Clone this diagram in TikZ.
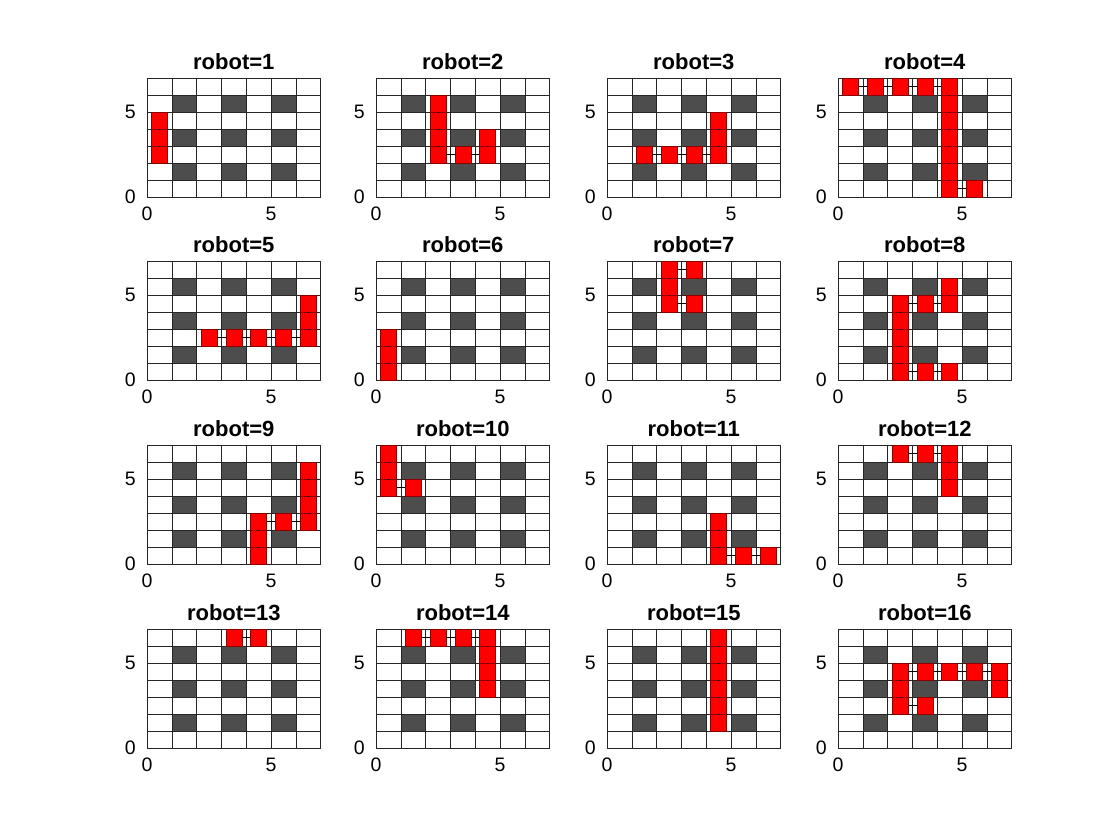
\documentclass[tikz,border=0pt]{standalone}
\usepackage{fontspec}
\setmainfont{Liberation Sans}
\usepackage{tikz}
\definecolor{shelf}{HTML}{4D4D4D}
\definecolor{gridk}{HTML}{262626}
\definecolor{botred}{HTML}{FF0000}
\tikzset{
  shelfbox/.style={fill=shelf},
  gridln/.style={draw=gridk,line width=0.6pt},
  cellr/.style={draw=red!55!black,fill=botred,line width=0.4pt,minimum width=16pt,minimum height=17pt,inner sep=0pt},
  route/.style={draw=black,line width=0.8pt},
  ttl/.style={font=\fontsize{22}{26}\selectfont\bfseries,anchor=base,inner sep=0pt},
  tck/.style={font=\fontsize{19.5}{23}\selectfont,inner sep=0pt},
}
% one panel: origin x, origin y, robot number, visited cells col/row
\newcommand{\robotpanel}[4]{%
  \begin{scope}[shift={(#1pt,#2pt)},x=24.8pt,y=17pt]
    \foreach \cx in {1,3,5}
      \foreach \ry in {1,3,5}
        \fill[shelfbox] (\cx,\ry) rectangle ++(1,1);
    \draw[gridln] (0,0) grid[step={(1,1)}] (7,7);
    \node[ttl,yshift=8pt] (t#3) at (3.5,7) {robot=#3};
    \node[tck,anchor=east,xshift=-11pt] (y0-#3) at (0,0) {0};
    \node[tck,anchor=east,xshift=-11pt] (y5-#3) at (0,5) {5};
    \node[tck,anchor=north,yshift=-10pt] (x0-#3) at (0,0) {0};
    \node[tck,anchor=north,yshift=-10pt] (x5-#3) at (5,0) {5};
    \foreach \cx/\ry [count=\i] in {#4} {
      \node[cellr] (r#3-\i) at (\cx+0.5,\ry+0.5) {};
      \ifnum\i>1
        \pgfmathtruncatemacro\j{\i-1}
        \draw[route] (r#3-\j) -- (r#3-\i);
      \fi
    }
  \end{scope}}
\begin{document}
\begin{tikzpicture}
\fill[white] (0,0) rectangle (1120pt,840pt);
\useasboundingbox (0,0) rectangle (1120pt,840pt);
% row 1
\robotpanel{147}{643}{1}{0/2,0/3,0/4}
\robotpanel{376}{643}{2}{2/5,2/4,2/3,2/2,3/2,4/2,4/3}
\robotpanel{607}{643}{3}{1/2,2/2,3/2,4/2,4/3,4/4}
\robotpanel{838}{643}{4}{0/6,1/6,2/6,3/6,4/6,4/5,4/4,4/3,4/2,4/1,4/0,5/0}
% row 2
\robotpanel{147}{460}{5}{2/2,3/2,4/2,5/2,6/2,6/3,6/4}
\robotpanel{376}{460}{6}{0/0,0/1,0/2}
\robotpanel{607}{460}{7}{3/4,2/4,2/5,2/6,3/6}
\robotpanel{838}{460}{8}{4/5,4/4,3/4,2/4,2/3,2/2,2/1,2/0,3/0,4/0}
% row 3
\robotpanel{147}{276}{9}{4/0,4/1,4/2,5/2,6/2,6/3,6/4,6/5}
\robotpanel{376}{276}{10}{0/6,0/5,0/4,1/4}
\robotpanel{607}{276}{11}{4/2,4/1,4/0,5/0,6/0}
\robotpanel{838}{276}{12}{2/6,3/6,4/6,4/5,4/4}
% row 4
\robotpanel{147}{92}{13}{3/6,4/6}
\robotpanel{376}{92}{14}{1/6,2/6,3/6,4/6,4/5,4/4,4/3}
\robotpanel{607}{92}{15}{4/6,4/5,4/4,4/3,4/2,4/1}
\robotpanel{838}{92}{16}{3/2,2/2,2/3,2/4,3/4,4/4,5/4,6/4,6/3}
\end{tikzpicture}
\end{document}
